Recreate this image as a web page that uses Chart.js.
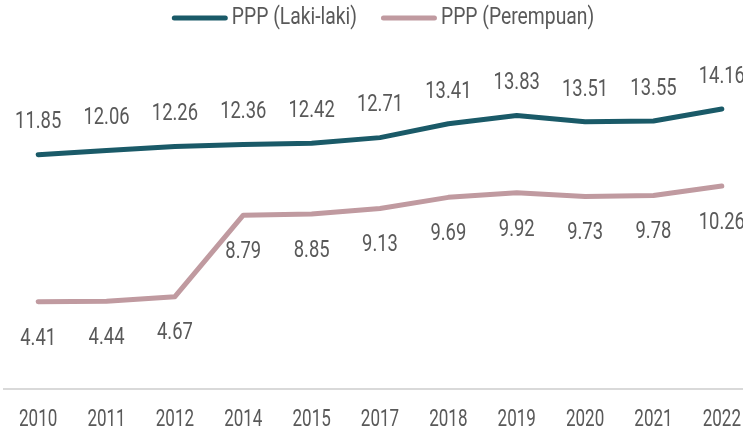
<!DOCTYPE html>
<html>
<head>
<meta charset="utf-8">
<script src="https://cdn.jsdelivr.net/npm/chart.js@4"></script>
<style>
  html, body { margin: 0; padding: 0; background: #fff; overflow: hidden; }
  #wrap { width: 766px; height: 437px; }
</style>
</head>
<body>
<div id="wrap"><canvas id="pppChart" width="766" height="437"></canvas></div>
<script>
const years = ['2010', '2011', '2012', '2014', '2015', '2017', '2018', '2019', '2020', '2021', '2022'];
const pppMale = [11.85, 12.06, 12.26, 12.36, 12.42, 12.71, 13.41, 13.83, 13.51, 13.55, 14.16];
const pppFemale = [4.41, 4.44, 4.67, 8.79, 8.85, 9.13, 9.69, 9.92, 9.73, 9.78, 10.26];

const FONT = 'Roboto, sans-serif';
const TEXT = '#595959';

// no condensed face installed, so squeeze Roboto horizontally
function narrowText(ctx, text, x, y, align, squeeze) {
  ctx.save();
  ctx.translate(x, y);
  ctx.scale(squeeze, 1);
  ctx.textAlign = align;
  ctx.fillText(text, 0, 0);
  ctx.restore();
}

const condensedText = {
  id: 'condensedText',
  afterDraw(chart) {
    const ctx = chart.ctx;
    ctx.save();
    ctx.font = '23px ' + FONT;
    ctx.fillStyle = TEXT;
    ctx.textBaseline = 'middle';

    // value labels: above the first line, below the second
    chart.data.datasets.forEach((ds, i) => {
      chart.getDatasetMeta(i).data.forEach((pt, j) => {
        narrowText(ctx, ds.data[j].toFixed(2), pt.x, pt.y + (i === 0 ? -32 : 37), 'center', 0.8);
      });
    });

    // x tick labels
    const xs = chart.scales.x;
    chart.data.labels.forEach((lab, i) => {
      narrowText(ctx, lab, xs.getPixelForValue(i), 420, 'center', 0.74);
    });

    // legend
    const sq = 0.84;
    const items = chart.data.datasets.map(ds => ({
      label: ds.label, color: ds.borderColor,
      w: ctx.measureText(ds.label).width * sq
    }));
    const lineW = 56, gapText = 4, gapItem = 24;
    const total = items.reduce((s, it) => s + lineW + gapText + it.w, 0) + gapItem * (items.length - 1);
    let x = chart.width / 2 - total / 2;
    const ly = 18;
    items.forEach(it => {
      ctx.strokeStyle = it.color;
      ctx.lineWidth = 5;
      ctx.lineCap = 'round';
      ctx.beginPath();
      ctx.moveTo(x + 2.5, ly);
      ctx.lineTo(x + lineW - 2.5, ly);
      ctx.stroke();
      narrowText(ctx, it.label, x + lineW + gapText, ly, 'left', sq);
      x += lineW + gapText + it.w + gapItem;
    });
    ctx.restore();
  }
};

new Chart(document.getElementById('pppChart'), {
  type: 'line',
  data: {
    labels: years,
    datasets: [{
      label: 'PPP (Laki-laki)',
      data: pppMale,
      borderColor: '#1a5a68',
      borderWidth: 5,
      borderCapStyle: 'round',
      borderJoinStyle: 'round',
      pointRadius: 0,
      tension: 0
    }, {
      label: 'PPP (Perempuan)',
      data: pppFemale,
      borderColor: '#c09aa0',
      borderWidth: 5,
      borderCapStyle: 'round',
      borderJoinStyle: 'round',
      pointRadius: 0,
      tension: 0
    }]
  },
  options: {
    responsive: false,
    animation: false,
    layout: { padding: { left: 4, right: 10, top: 33, bottom: 48 } },
    plugins: {
      tooltip: { enabled: false },
      legend: { display: false }
    },
    scales: {
      x: {
        offset: true,
        grid: { display: false, drawTicks: false },
        border: { display: true, color: '#d9d9d9', width: 2 },
        ticks: { display: false }
      },
      y: {
        display: false,
        min: 0,
        max: 18
      }
    }
  },
  plugins: [condensedText]
});
</script>
</body>
</html>
